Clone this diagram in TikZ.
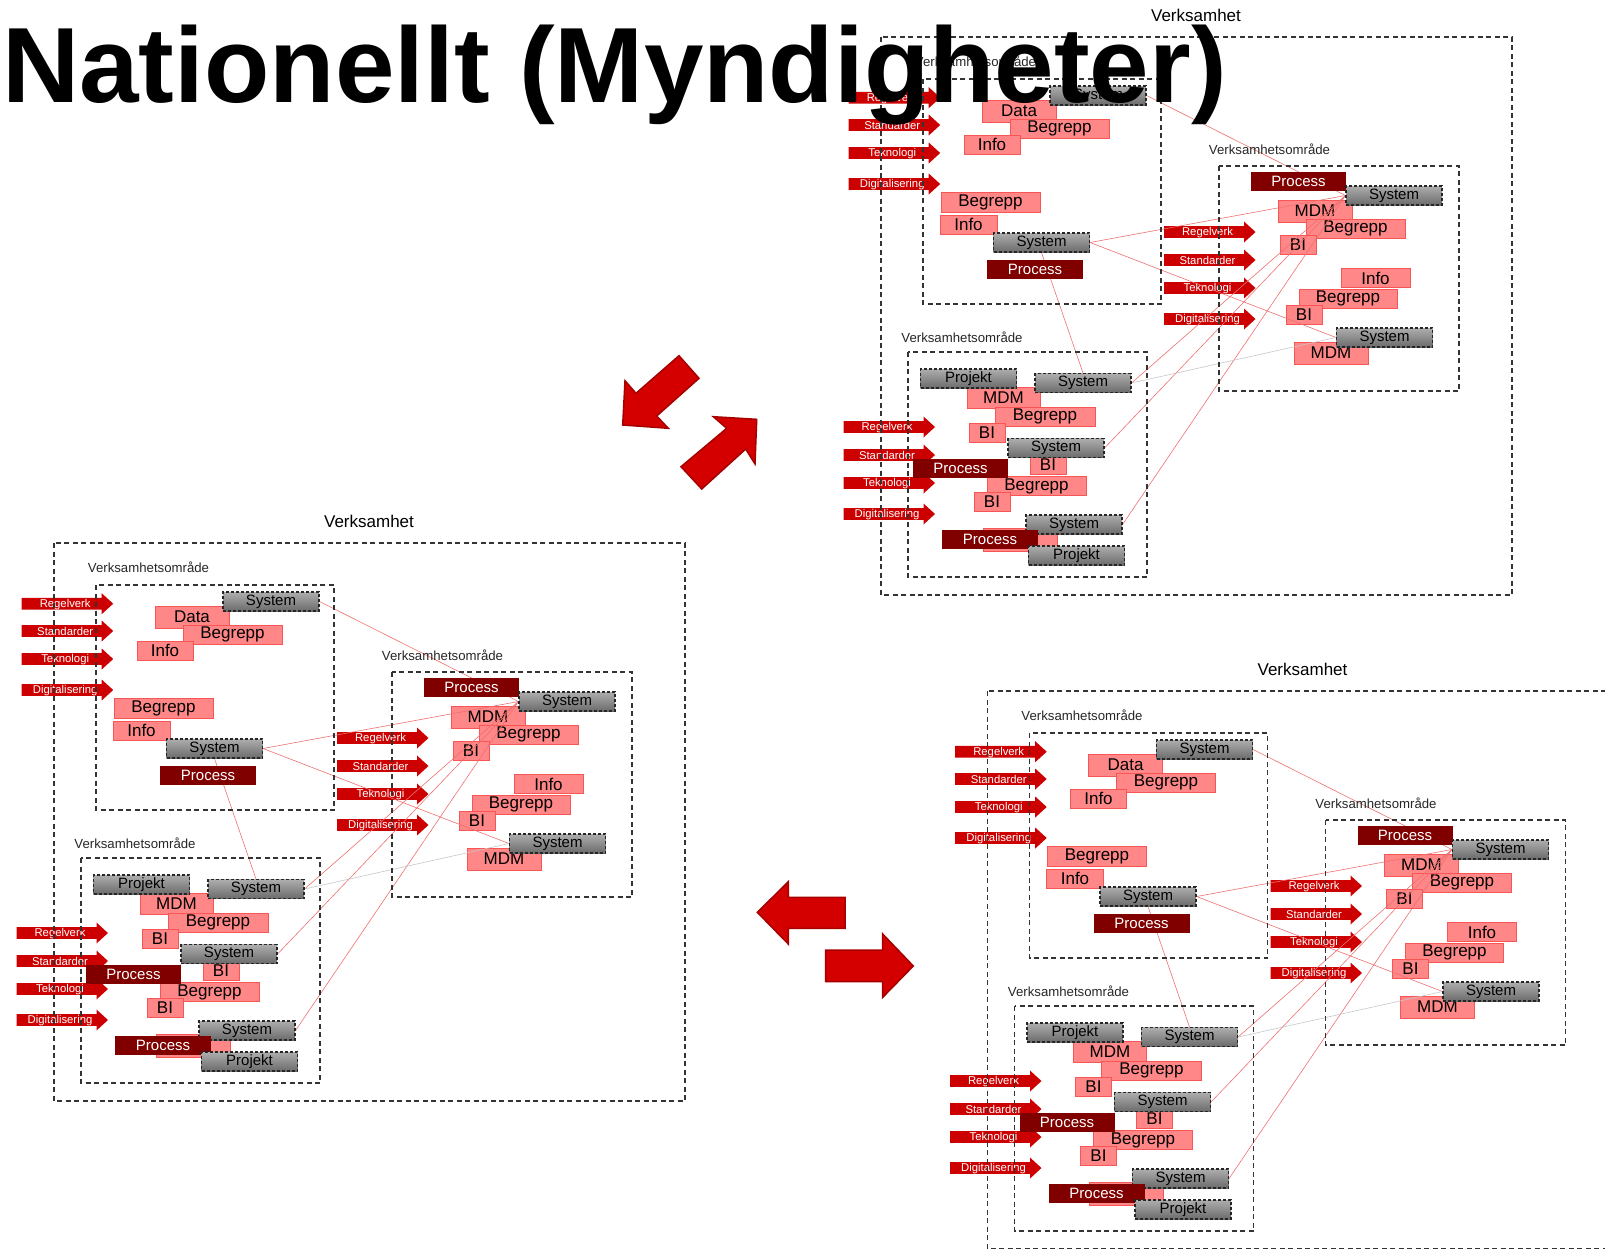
\documentclass[tikz,border=0pt]{standalone}
\usepackage{fontspec}
\setmainfont{Liberation Sans}
\usetikzlibrary{calc}

\definecolor{pilrod}{RGB}{204,0,0}
\definecolor{procrod}{RGB}{128,0,0}
\definecolor{rosa}{RGB}{255,135,135}
\definecolor{rosakant}{RGB}{250,85,85}
\definecolor{linjerod}{RGB}{238,112,112}
\definecolor{storpilrod}{RGB}{212,0,0}
\definecolor{storpilkant}{RGB}{165,0,0}

\pgfdeclarelayer{bg}
\pgfdeclarelayer{mid}
\pgfsetlayers{bg,mid,main}

\tikzset{
	ruta/.style={draw=black!80, line width=1.2pt, dash pattern=on 5pt off 3.5pt},
	rubrik/.style={inner sep=0, font=\fontsize{17}{17}\selectfont},
	omrade/.style={inner sep=0, text=black!85, font=\fontsize{13.2}{13}\selectfont},
	begrepp/.style={fill=rosa, draw=rosakant, line width=0.8pt, inner sep=0, minimum height=19pt, font=\fontsize{17}{17}\selectfont},
	system/.style={top color=black!32, bottom color=black!58, draw=black!85, line width=1.1pt, dash pattern=on 3pt off 2pt, inner sep=0, minimum width=96pt, minimum height=19pt, font=\fontsize{15}{15}\selectfont},
	process/.style={fill=procrod, text=white, inner sep=0, minimum width=96pt, minimum height=19pt, font=\fontsize{15}{15}\selectfont},
	piltext/.style={text=white, inner sep=0, font=\fontsize{11.3}{11}\selectfont},
	koppling/.style={draw=linjerod, line width=0.6pt},
	gralinje/.style={draw=black!22, line width=0.6pt},
	storpil/.style={fill=storpilrod, draw=storpilkant, line width=1.5pt},
}

% liten pil: namn, vanster x, mitt y, text
\newcommand\smapil[4]{%
	\fill[pilrod] (#2,#3-5.8) -- (#2+80,#3-5.8) -- (#2+80,#3-10.5) -- (#2+91.5,#3) -- (#2+80,#3+10.5) -- (#2+80,#3+5.8) -- (#2,#3+5.8) -- cycle;
	\node[piltext] (#1) at (#2+43.5,#3+0.8) {#4};
}

% en hel verksamhet: dx, dy, prefix
\newcommand\verksamhet[3]{%
\begin{scope}[shift={(#1,#2)}, name prefix=#3-]
	\draw[ruta] (54,543) rectangle (685,1101);
	\node[rubrik] (vh) at (369,521) {Verksamhet};
	
	\draw[ruta] (96,585) rectangle (334,810);
	\node[omrade] (vo1) at (148.5,567.7) {Verksamhetsområde};
	\draw[ruta] (392,672) rectangle (632,897);
	\node[omrade] (vo2) at (442.5,655) {Verksamhetsområde};
	\draw[ruta] (81,858) rectangle (320,1083);
	\node[omrade] (vo3) at (135,843) {Verksamhetsområde};
	
	\begin{pgfonlayer}{bg}
		\smapil{regel1}{21.7}{603.7}{Regelverk}
		\smapil{standard1}{21.7}{631}{Standarder}
		\smapil{teknik1}{21.7}{659}{Teknologi}
		\smapil{digital1}{21.7}{690}{Digitalisering}
		
		\smapil{regel2}{337}{738}{Regelverk}
		\smapil{standard2}{337}{766}{Standarder}
		\smapil{teknik2}{337}{794}{Teknologi}
		\smapil{digital2}{337}{825}{Digitalisering}
		
		\smapil{regel3}{16.5}{933}{Regelverk}
		\smapil{standard3}{16.5}{961}{Standarder}
		\smapil{teknik3}{16.5}{989}{Teknologi}
		\smapil{digital3}{16.5}{1020}{Digitalisering}
		
		\node[begrepp, minimum width=74pt, minimum height=22pt] (data1) at (192,617) {Data};
		\node[begrepp, minimum width=99pt] (beg1a) at (232.5,634.5) {Begrepp};
		\node[begrepp, minimum width=56pt] (info1a) at (165,650.5) {Info};
		\node[begrepp, minimum width=99pt, minimum height=20pt] (beg1b) at (163.5,708) {Begrepp};
		\node[begrepp, minimum width=57pt] (info1b) at (141.5,730.5) {Info};
		
		\node[begrepp, minimum width=74pt, minimum height=22pt] (mdm2a) at (488,717) {MDM};
		\node[begrepp, minimum width=99pt] (beg2a) at (528.5,734.5) {Begrepp};
		\node[begrepp, minimum width=36pt] (bi2a) at (471,750.5) {BI};
		\node[begrepp, minimum width=69pt] (info2) at (548.5,784) {Info};
		\node[begrepp, minimum width=98pt] (beg2b) at (521,804.5) {Begrepp};
		\node[begrepp, minimum width=36pt] (bi2b) at (477,820.5) {BI};
		\node[begrepp, minimum width=74pt, minimum height=22pt] (mdm2b) at (504,859) {MDM};
		
		\node[begrepp, minimum width=73pt, minimum height=21pt] (mdm3) at (176.5,903.5) {MDM};
		\node[begrepp, minimum width=100pt] (beg3a) at (218,922.5) {Begrepp};
		\node[begrepp, minimum width=36pt] (bi3a) at (160,938.5) {BI};
		\node[begrepp, minimum width=36pt, minimum height=18pt] (bi3b) at (221,971) {BI};
		\node[begrepp, minimum width=99pt] (beg3b) at (209.5,992) {Begrepp};
		\node[begrepp, minimum width=36pt] (bi3c) at (165,1007.5) {BI};
		\node[begrepp, minimum width=74pt, minimum height=23pt] (tom3) at (193,1046) {};
	\end{pgfonlayer}
	
	\node[system] (sys1a) at (271,601.5) {System};
	\node[system] (sys1b) at (214.5,748.5) {System};
	\node[process] (proc1) at (208,775.5) {Process};
	
	\node[process, minimum width=95pt] (proc2) at (471.5,687.5) {Process};
	\node[system] (sys2a) at (567,701.5) {System};
	\node[system] (sys2b) at (557.5,843.5) {System};
	
	\node[system] (proj3a) at (141.5,884.5) {Projekt};
	\node[system] (sys3a) at (256,889) {System};
	\node[system] (sys3b) at (229,954) {System};
	\node[process, minimum width=95pt] (proc3a) at (133.5,974) {Process};
	\node[system] (sys3c) at (247,1030.5) {System};
	\node[process] (proc3b) at (163,1045) {Process};
	\node[system] (proj3b) at (249.5,1061.5) {Projekt};
	
	\begin{pgfonlayer}{mid}
		\draw[koppling] (sys1a.east) -- (sys2a.west);
		\draw[koppling] (sys1b.east) -- (sys2a.west);
		\draw[koppling] (sys1b.east) -- (sys2b.west);
		\draw[koppling] (sys1b.south) -- (sys3a.north);
		\draw[koppling] (sys3a.east) -- (sys2a.west);
		\draw[koppling] (sys3b.east) -- (sys2a.west);
		\draw[koppling] (sys3c.east) -- (sys2a.west);
		\draw[gralinje] (sys3a.east) -- (sys2b.west);
	\end{pgfonlayer}
\end{scope}}

\begin{document}
\begin{tikzpicture}[x=1pt, y=-1pt]
	\useasboundingbox (0,0) rectangle (1605,1248);
	\clip (0,0) rectangle (1605,1248);
	
	%%%%% verksamheter %%%%%
	\verksamhet{0}{0}{vanster}
	\verksamhet{827}{-506}{uppe}
	\verksamhet{933.5}{148}{nere}
	
	%%%%% stora pilar %%%%%
	\draw[storpil] (679,355.7) -- (699,378.3) -- (656.7,416) -- (668.3,428.3) -- (622.7,425) -- (625,380.7) -- (636,393.3) -- cycle;
	\draw[storpil] (681,466.7) -- (726.7,428.3) -- (713.3,416.7) -- (756.7,419.3) -- (755,464) -- (745.7,449) -- (701.7,489) -- cycle;
	\draw[storpil] (757.3,912.3) -- (788.3,881.7) -- (788.3,897.3) -- (845,897.3) -- (845,928.3) -- (788.3,928.3) -- (788.3,944) -- cycle;
	\draw[storpil] (825.7,950) -- (882.7,950) -- (882.7,934) -- (913.3,966) -- (882.7,997.3) -- (882.7,981.7) -- (825.7,981.7) -- cycle;
	
	\node[anchor=base west, inner sep=0, font=\bfseries\fontsize{107}{107}\selectfont] (titel) at (2,102) {Nationellt (Myndigheter)};
\end{tikzpicture}
\end{document}
